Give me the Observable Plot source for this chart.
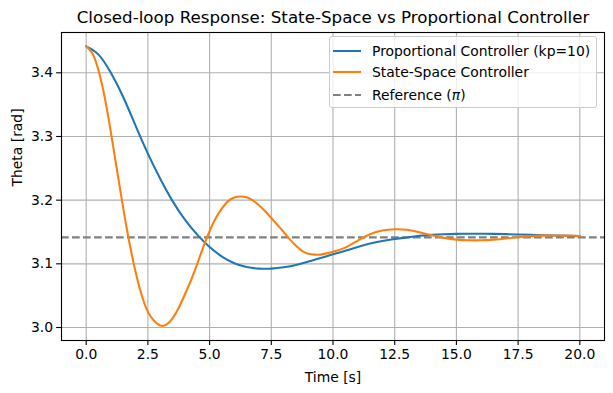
<!DOCTYPE html>
<html>
<head>
<meta charset="utf-8">
<script src="https://cdn.jsdelivr.net/npm/d3@7"></script>
<script src="https://cdn.jsdelivr.net/npm/@observablehq/plot@0.6"></script>
<style>
  html, body { margin: 0; padding: 0; background: white; }
  #wrap { position: relative; width: 613px; height: 393px; font-family: "DejaVu Sans", sans-serif; }
  #legend { position: absolute; left: 329px; top: 36px; width: 266px; height: 70px;
    border: 1px solid #cccccc; border-radius: 3px; background: rgba(255,255,255,0.8);
    font-size: 13.9px; color: black; }
  .row { position: absolute; left: 0; height: 20px; display: flex; align-items: center; }
  .row svg { margin-left: 3px; margin-right: 11px; }
</style>
</head>
<body>
<div id="wrap"></div>
<script>
// ---- data ----
const chartTitle = "Closed-loop Response: State-Space vs Proportional Controller";
const xLabel = "Time [s]";
const yLabel = "Theta [rad]";
const seriesNames = ["Proportional Controller (kp=10)", "State-Space Controller", "Reference (π)"];
const seriesColors = ["#1f77b4", "#ff7f0e", "#808080"];

// Proportional controller, sampled every 0.5 s
const timeP  = [0, 0.5, 1.0, 1.5, 2.0, 2.5, 3.0, 3.5, 4.0, 4.5, 5.0, 5.5, 6.0, 6.5, 7.0, 7.5, 8.0, 8.5, 9.0, 9.5, 10.0, 10.5, 11.0, 11.5, 12.0, 12.5, 13.0, 13.5, 14.0, 14.5, 15.0, 15.5, 16.0, 16.5, 17.0, 17.5, 18.0, 18.5, 19.0, 19.5, 20.0];
const thetaP = [3.4416, 3.4286, 3.400, 3.362, 3.317, 3.273, 3.2335, 3.1985, 3.1695, 3.1458, 3.1263, 3.1115, 3.101, 3.095, 3.0925, 3.0925, 3.0945, 3.098, 3.1035, 3.109, 3.115, 3.1205, 3.1265, 3.132, 3.136, 3.139, 3.1415, 3.144, 3.1455, 3.1465, 3.147, 3.1472, 3.1472, 3.147, 3.1466, 3.1461, 3.1456, 3.145, 3.1445, 3.144, 3.1435];

// State-space controller, every 0.25 s up to 10 s, then every 0.5 s
const timeSS  = [0, 0.25, 0.5, 0.75, 1.0, 1.25, 1.5, 1.75, 2.0, 2.25, 2.5, 2.75, 3.0, 3.25, 3.5, 3.75, 4.0, 4.25, 4.5, 4.75, 5.0, 5.25, 5.5, 5.75, 6.0, 6.25, 6.5, 6.75, 7.0, 7.25, 7.5, 7.75, 8.0, 8.25, 8.5, 8.75, 9.0, 9.25, 9.5, 9.75, 10.0, 10.5, 11.0, 11.5, 12.0, 12.5, 13.0, 13.5, 14.0, 14.5, 15.0, 15.5, 16.0, 16.5, 17.0, 17.5, 18.0, 18.5, 19.0, 19.5, 20.0];
const thetaSS = [3.4416, 3.4306, 3.4036, 3.3616, 3.3066, 3.2466, 3.1876, 3.1336, 3.0876, 3.0506, 3.0246, 3.0106, 3.0030, 3.0045, 3.0145, 3.031, 3.052, 3.0745, 3.100, 3.127, 3.1515, 3.1715, 3.187, 3.1985, 3.2043, 3.2058, 3.2045, 3.1995, 3.192, 3.1825, 3.172, 3.161, 3.150, 3.1385, 3.1285, 3.1205, 3.116, 3.1145, 3.1145, 3.1165, 3.119, 3.1255, 3.1365, 3.1465, 3.1522, 3.1543, 3.1535, 3.1497, 3.145, 3.1408, 3.138, 3.137, 3.137, 3.138, 3.1398, 3.142, 3.1435, 3.1443, 3.1446, 3.1443, 3.1437];

const referenceValue = Math.PI;
const xTicks = [0, 2.5, 5, 7.5, 10, 12.5, 15, 17.5, 20];
const yTicks = [3.0, 3.1, 3.2, 3.3, 3.4];

// ---- tables ----
const propData = timeP.map((t, i) => ({t, v: thetaP[i]}));
const ssData = timeSS.map((t, i) => ({t, v: thetaSS[i]}));

const chart = Plot.plot({
  width: 613,
  height: 393,
  marginLeft: 61,
  marginRight: 9,
  marginTop: 32,
  marginBottom: 53,
  style: {fontFamily: "DejaVu Sans", fontSize: "13.9px", color: "black", background: "white", overflow: "visible"},
  x: {domain: [-1, 21]},
  y: {domain: [2.9796, 3.4633]},
  marks: [
    Plot.gridX(xTicks, {stroke: "#b0b0b0", strokeOpacity: 1, strokeWidth: 1.1}),
    Plot.gridY(yTicks, {stroke: "#b0b0b0", strokeOpacity: 1, strokeWidth: 1.1}),
    Plot.ruleY([referenceValue], {stroke: seriesColors[2], strokeWidth: 2.08, strokeDasharray: "7.7,3.3"}),
    Plot.line(propData, {x: "t", y: "v", stroke: seriesColors[0], strokeWidth: 2.08, curve: "natural"}),
    Plot.line(ssData, {x: "t", y: "v", stroke: seriesColors[1], strokeWidth: 2.08, curve: "natural"}),
    Plot.frame({stroke: "black", strokeWidth: 1.1}),
    Plot.axisX(xTicks, {tickSize: 4.9, tickPadding: 3.5, tickFormat: d3.format(".1f"), label: null, stroke: "black", strokeWidth: 1.1, fontSize: 13.9}),
    Plot.axisY(yTicks, {tickSize: 4.9, tickPadding: 3.5, tickFormat: d3.format(".1f"), label: null, stroke: "black", strokeWidth: 1.1, fontSize: 13.9}),
    Plot.text([chartTitle], {frameAnchor: "top", dy: -15, fontSize: 16.7, lineAnchor: "middle", fill: "black"}),
    Plot.text([xLabel], {frameAnchor: "bottom", dy: 37, fontSize: 13.9, lineAnchor: "middle", fill: "black"}),
    Plot.text([yLabel], {frameAnchor: "left", dx: -44, rotate: -90, fontSize: 13.9, lineAnchor: "middle", fill: "black"})
  ]
});

const wrap = document.getElementById("wrap");
wrap.appendChild(chart);

// legend (matplotlib-style box)
const legend = document.createElement("div");
legend.id = "legend";
const rowTops = [4, 25, 48];
seriesNames.forEach((name, i) => {
  const row = document.createElement("div");
  row.className = "row";
  row.style.top = rowTops[i] + "px";
  const dash = i === 2 ? 'stroke-dasharray="7.7,3.3"' : "";
  row.innerHTML = `<svg width="28" height="6"><line x1="0" y1="3" x2="28" y2="3" stroke="${seriesColors[i]}" stroke-width="2.08" ${dash}/></svg>` +
    (i === 2 ? `<span>Reference (<i>π</i>)</span>` : `<span>${name}</span>`);
  legend.appendChild(row);
});
wrap.appendChild(legend);
</script>
</body>
</html>
